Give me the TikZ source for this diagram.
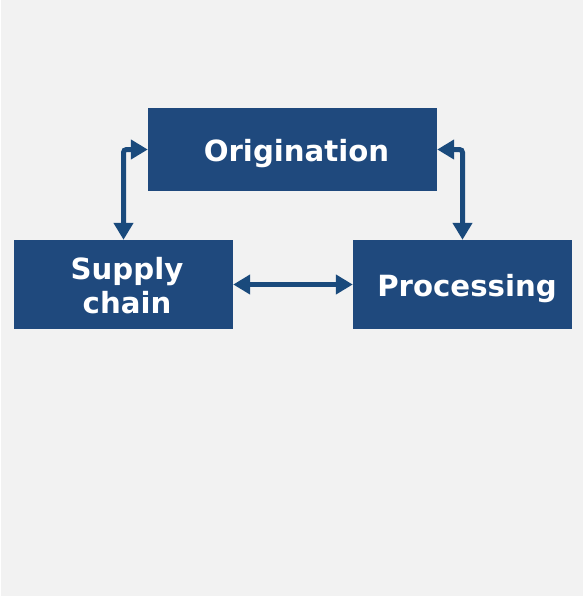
\documentclass[tikz,border=0pt]{standalone}
\usepackage{fontspec}
\setmainfont{DejaVu Sans}
\usetikzlibrary{arrows.meta}
\definecolor{boxblue}{HTML}{1F497D}
\definecolor{linkblue}{HTML}{1A4A7C}
\definecolor{panel}{HTML}{F2F2F2}
\begin{document}
\begin{tikzpicture}[x=1pt,y=-1pt,
  block/.style={fill=boxblue, draw=none, inner sep=0pt},
  label/.style={text=white, font=\bfseries\fontsize{29.2}{34}\selectfont, inner sep=0pt, anchor=base},
  link/.style={draw=linkblue, line width=5pt, rounded corners=3pt,
    {Triangle[length=17pt,width=19pt]}-{Triangle[length=17pt,width=19pt]}}]
  % page and panel
  \useasboundingbox (0,0) rectangle (587,598);
  \fill[white] (0,0) rectangle (587,598);
  \fill[panel] (1,0) rectangle (583,596);
  % blocks
  \node[block, minimum width=289pt, minimum height=83pt] (o) at (292.5,149.5) {};
  \node[block, minimum width=219pt, minimum height=89pt] (s) at (123.5,284.5) {};
  \node[block, minimum width=219pt, minimum height=89pt] (p) at (462.5,284.5) {};
  % block labels
  \node[label] (ot) at (296.5,161) {Origination};
  \node[label] (st1) at (127,279) {Supply};
  \node[label] (st2) at (127,313) {chain};
  \node[label] (pt) at (467,296) {Processing};
  % connectors
  \draw[link] (s.north) |- (o.west);
  \draw[link] (o.east) -| (p.north);
  \draw[link] (s.east) -- (p.west);
\end{tikzpicture}
\end{document}
